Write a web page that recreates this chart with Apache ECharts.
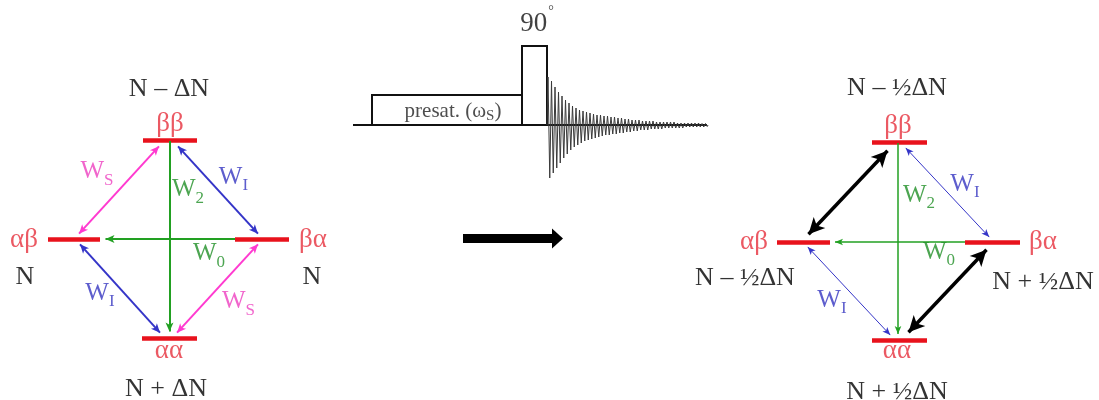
<!DOCTYPE html>
<html><head><meta charset="utf-8">
<script src="https://cdn.jsdelivr.net/npm/echarts@6/dist/echarts.min.js"></script>
<style>html,body{margin:0;padding:0;background:#fff}#c{width:1099px;height:400px}</style>
</head><body><div id="c"></div>
<script>
// ---------------- DATA ----------------
const levelNames = ['ββ', 'αβ', 'βα', 'αα'];
const leftPopulations = ['N – ΔN', 'N', 'N', 'N + ΔN'];
const rightPopulations = ['N – ½ΔN', 'N – ½ΔN', 'N + ½ΔN', 'N + ½ΔN'];
const transitionSubs = ['S', 'I', '2', '0'];          // W_S, W_I, W_2, W_0
const pulseAngle = '90';
const presatText = ['presat. (ω', 'S', ')'];
// FID: read peak heights above / below baseline for each oscillation
const fidUp =   [48,44,38,33,29,25,22,19,17,15,14,13,12,11,10,10,9,9,8,8,7,7,6,6,5,5,5,4,4,4,4,3,3,3,3,3,3,2,2,2,2,2,2,2,1.5,1.5];
const fidDown = [53,48,43,38,33,29,25,22,20,18,16,15,14,13,12,11,10,10,9,9,8,8,7,7,6,6,5,5,5,4,4,4,4,3,3,3,3,3,3,2,2,2,2,2,2,1.5];

// ---------------- LAYOUT ----------------
const FONT = "'Liberation Serif', 'DejaVu Serif', serif";
const C = {red:'#e8121c', redText:'#e6303c', pink:'#ff3ad0', pinkText:'#ee3fbf', blue:'#3535c8', blueText:'#3434c0', green:'#22a022', greenText:'#1f8f26', black:'#000'};

// level bars: [x1, x2, y] in order ββ, αβ, βα, αα
const leftBars  = [[143,197,140.5],[48,100,239],[235,289,239],[142,197,338]];
const rightBars = [[872,927,142],[777,830,242],[965,1020,242],[872,927,340]];

function unit(a,b){const dx=b[0]-a[0],dy=b[1]-a[1],l=Math.hypot(dx,dy);return [dx/l,dy/l];}
// shift the ends so the arrow tips land on given points
function arrowItem(a,b,head,both){
  const u=unit(a,b);
  const s = both ? [a[0]+u[0]*head/2, a[1]+u[1]*head/2] : a;
  const e = [b[0]-u[0]*head/2, b[1]-u[1]*head/2];
  return {coords:[s,e]};
}
function barSeries(bars){
  return {type:'lines', coordinateSystem:'cartesian2d', silent:true, symbol:'none',
    lineStyle:{color:C.red,width:4.5,opacity:1},
    data:bars.map(b=>({coords:[[b[0],b[2]],[b[1],b[2]]]}))};
}
function arrowSeries(items,color,width,size,both){
  return {type:'lines', coordinateSystem:'cartesian2d', silent:true,
    symbol: both?['arrow','arrow']:['none','arrow'], symbolSize:[size,size],
    lineStyle:{color:color,width:width,opacity:1,curveness:0},
    data:items.map(p=>arrowItem(p[0],p[1],size[1],both))};
}

const wRich = (col)=>({
  m:{fontFamily:FONT,fontSize:25,color:col},
  s:{fontFamily:FONT,fontSize:17,color:col,padding:[18,0,0,0]}
});
function textItem(x,y,text,col,size,rich){
  return {value:[x,y], label:{show:true, position:'inside', formatter:text, color:col,
    fontFamily:FONT, fontSize:size, align:'center', verticalAlign:'middle',
    textBorderWidth:0, rich:rich||{}}};
}

const texts = [];
// left diagram
texts.push(textItem(169,89,leftPopulations[0],C.black,26));
texts.push(textItem(25,277.5,leftPopulations[1],C.black,26));
texts.push(textItem(312,277.5,leftPopulations[2],C.black,26));
texts.push(textItem(166,389,leftPopulations[3],C.black,26));
const leftGreek = [[170,124],[24,240],[313,240],[169,351]];
levelNames.forEach((n,i)=>texts.push(textItem(leftGreek[i][0],leftGreek[i][1],n,C.redText,27)));
const Wt = s=>'{m|W}{s|'+s+'}';
texts.push(textItem(97,171.5,Wt(transitionSubs[0]),C.pinkText,25,wRich(C.pinkText)));
texts.push(textItem(238.5,301.5,Wt(transitionSubs[0]),C.pinkText,25,wRich(C.pinkText)));
texts.push(textItem(233.5,177,Wt(transitionSubs[1]),C.blueText,25,wRich(C.blueText)));
texts.push(textItem(100,293,Wt(transitionSubs[1]),C.blueText,25,wRich(C.blueText)));
texts.push(textItem(188,189.5,Wt(transitionSubs[2]),C.greenText,25,wRich(C.greenText)));
texts.push(textItem(209,253.5,Wt(transitionSubs[3]),C.greenText,25,wRich(C.greenText)));
// right diagram
texts.push(textItem(897,88,rightPopulations[0],C.black,26));
texts.push(textItem(745,278,rightPopulations[1],C.black,26));
texts.push(textItem(1043,282,rightPopulations[2],C.black,26));
texts.push(textItem(897,392,rightPopulations[3],C.black,26));
const rightGreek = [[898,126],[754,242],[1043,242],[897,351]];
levelNames.forEach((n,i)=>texts.push(textItem(rightGreek[i][0],rightGreek[i][1],n,C.redText,27)));
texts.push(textItem(965,184,Wt(transitionSubs[1]),C.blueText,25,wRich(C.blueText)));
texts.push(textItem(832,300,Wt(transitionSubs[1]),C.blueText,25,wRich(C.blueText)));
texts.push(textItem(919,195,Wt(transitionSubs[2]),C.greenText,25,wRich(C.greenText)));
texts.push(textItem(939,252,Wt(transitionSubs[3]),C.greenText,25,wRich(C.greenText)));
// pulse sequence text
texts.push(textItem(537,24,'{m|'+pulseAngle+'}{d|°}',C.black,27,{
  m:{fontFamily:FONT,fontSize:27,color:'#111'}, d:{fontFamily:FONT,fontSize:14,color:'#111',verticalAlign:'top',padding:[0,0,26,1]}}));
texts.push(textItem(453,111,'{m|'+presatText[0]+'}{s|'+presatText[1]+'}{m|'+presatText[2]+'}',C.black,21,{
  m:{fontFamily:FONT,fontSize:21,color:'#222'}, s:{fontFamily:FONT,fontSize:15,color:'#222',padding:[10,0,0,0]}}));

// pulse sequence geometry
const BASE = 125;
const pulseShapes = [
  {coords:[[353,BASE],[707,BASE]]},
  {coords:[[372,BASE],[372,95],[522,95],[522,BASE]]},
  {coords:[[522,95],[522,46],[547,46],[547,BASE]]}
];
const fid = [[547,BASE]];
fidUp.forEach((u,i)=>{ const x=548+i*3.5; fid.push([x,BASE-u]); fid.push([x+1.75,BASE+fidDown[i]]); });
fid.push([708,BASE]);

const series = [
  barSeries(leftBars), barSeries(rightBars),
  // left diagram
  arrowSeries([[[76,237],[162,143]],[[261,241],[174,336]]],C.pink,2,[6,9],true),
  arrowSeries([[[175,143],[261,237]],[[77,241],[163,336]]],C.blue,2,[6,9],true),
  arrowSeries([[[169.5,141],[169.5,336]],[[235,239],[101,239]]],C.green,2,[6,9],false),
  // right diagram
  arrowSeries([[[898,143],[898,338]],[[965,242],[831,242]]],C.green,1.5,[5,8],false),
  arrowSeries([[[903,145],[992,240]],[[805,244],[893,338]]],C.blue,1,[5,8],true),
  arrowSeries([[[803,240],[893,145]],[[992,244],[903,338]]],C.black,3.5,[12,16],true),
  // middle arrow
  {type:'lines',coordinateSystem:'cartesian2d',silent:true,symbol:['none','triangle'],symbolSize:[[20,11],[20,11]],
   lineStyle:{color:'#000',width:9,opacity:1},data:[{coords:[[463,238.5],[557.5,238.5]]}]},
  // pulse sequence
  {type:'lines',coordinateSystem:'cartesian2d',polyline:true,silent:true,symbol:'none',
   lineStyle:{color:'#111',width:2,opacity:1},data:pulseShapes},
  {type:'line',data:fid,showSymbol:false,symbol:'none',silent:true,lineStyle:{color:'#3a3a3a',width:1},z:3},
  // texts
  {type:'scatter',data:texts,symbol:'circle',symbolSize:1,itemStyle:{color:'rgba(0,0,0,0)'},silent:true,z:10}
];

const chart = echarts.init(document.getElementById('c'));
chart.setOption({
  animation:false,
  backgroundColor:'#fff',
  grid:{left:0,right:0,top:0,bottom:0},
  xAxis:{type:'value',min:0,max:1099,show:false},
  yAxis:{type:'value',min:0,max:400,inverse:true,show:false},
  series:series
});
</script></body></html>
